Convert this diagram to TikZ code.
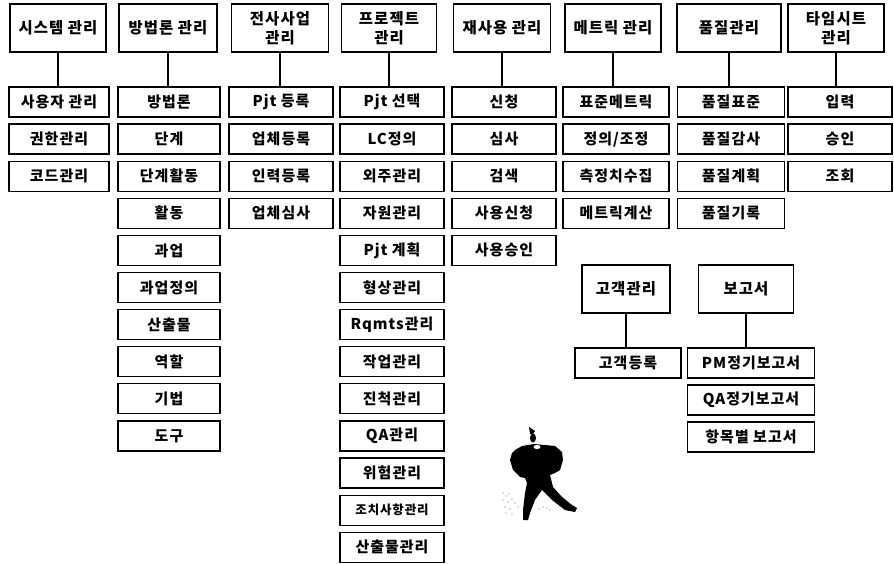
\documentclass[tikz,border=0pt]{standalone}
\usepackage{fontspec}
\setmainfont{Noto Sans CJK KR}[LetterSpace=7]
\usetikzlibrary{calc}
\tikzstyle{head}=[draw,line width=1.3bp,minimum height=48bp,inner sep=0pt,align=center,font=\bfseries\fontsize{15.5}{19}\selectfont]
\tikzstyle{item}=[draw,line width=1.2bp,minimum height=30bp,inner sep=0pt,font=\bfseries\fontsize{15}{18}\selectfont]
\tikzstyle{link} = [draw,line width=2.6bp]

\begin{document}
\begin{tikzpicture}[x=1bp,y=-1bp]
    \useasboundingbox (0,0) rectangle (894,564);
    % First we draw the top menus
    \foreach \pos/\w/\name/\txt in {{(58,28)/96/sys/시스템 관리},{(168,28)/98/meth/방법론 관리},
        {(280,28)/97/biz/{전사사업\\관리}},{(389,28)/95/prj/{프로젝트\\관리}},
        {(502,28)/97/reuse/재사용 관리},{(613,28)/96/metric/메트릭 관리},
        {(729,28)/104/qual/품질관리},{(836,28)/96/time/{타임시트\\관리}}}
        \node[head,minimum width=\w bp] (\name) at \pos {\txt};

    % Then the sub menus, one column at a time
    \foreach \txt [count=\i] in {사용자 관리,권한관리,코드관리}
        \node[item,minimum width=100bp] (sys-\i) at (59,{102+37.1*(\i-1)}) {\txt};
    \foreach \txt [count=\i] in {방법론,단계,단계활동,활동,과업,과업정의,산출물,역할,기법,도구}
        \node[item,minimum width=102bp] (meth-\i) at (169,{102+37.1*(\i-1)}) {\txt};
    \foreach \txt [count=\i] in {Pjt 등록,업체등록,인력등록,업체심사}
        \node[item,minimum width=104bp] (biz-\i) at (281,{102+37.1*(\i-1)}) {\txt};
    \foreach \txt [count=\i] in {Pjt 선택,LC정의,외주관리,자원관리,Pjt 계획,형상관리,Rqmts관리,
        작업관리,진척관리,QA관리,위험관리,{\fontsize{12.5}{14}\selectfont 조치사항관리},산출물관리}
        \node[item,minimum width=104bp] (prj-\i) at (392,{102+37.1*(\i-1)}) {\txt};
    \foreach \txt [count=\i] in {신청,심사,검색,사용신청,사용승인}
        \node[item,minimum width=104bp] (reuse-\i) at (504,{102+37.1*(\i-1)}) {\txt};
    \foreach \txt [count=\i] in {표준메트릭,{정의/조정},측정치수집,메트릭계산}
        \node[item,minimum width=106bp] (metric-\i) at (616,{102+37.1*(\i-1)}) {\txt};
    \foreach \txt [count=\i] in {품질표준,품질감사,품질계획,품질기록}
        \node[item,minimum width=107bp] (qual-\i) at (731,{102+37.1*(\i-1)}) {\txt};
    \foreach \txt [count=\i] in {입력,승인,조회}
        \node[item,minimum width=104bp] (time-\i) at (840,{102+37.1*(\i-1)}) {\txt};

    % The two small menus below
    \node[head,minimum width=88bp] (cust) at (626,289) {고객관리};
    \node[item,minimum width=106bp] (cust-1) at (628,363) {고객등록};
    \node[head,minimum width=95bp] (rep) at (746,289) {보고서};
    \foreach \txt [count=\i] in {PM정기보고서,QA정기보고서,항목별 보고서}
        \node[item,minimum width=127bp] (rep-\i) at (751,{363+37*(\i-1)}) {\txt};

    % Connect menus with their first sub menu
    \foreach \source in {sys,meth,biz,prj,reuse,metric,qual,time,cust,rep}
        \path[link] (\source.south) -- (\source.south |- \source-1.north);

    % the little man
    \fill[black] (522,446) -- (534,444) -- (545,445) -- (555,446) -- (562,452) -- (563,460)
        -- (560,470) -- (555,473) -- (550,475) -- (553,487) -- (562,497) -- (572,505)
        -- (577,508) -- (575,512) -- (565,510) -- (552,500) -- (542,490) -- (535,500)
        -- (530,513) -- (528,520) -- (523,520) -- (523,510) -- (525,493) -- (527,483)
        -- (525,478) -- (520,477) -- (513,470) -- (510,460) -- (512,453) -- (515,450) -- cycle;
    \fill[white] (537,447) ellipse (3.5 and 2);
    \fill[black] (533,438) ellipse (3 and 4.5);
    \fill[black] (529,427) -- (535,431) -- (533,434) -- (530,434) -- cycle;
    \foreach \p in {(503,493),(506,496),(509,494),(503,500),(508,502),(512,499),(515,503),
        (505,507),(510,509),(506,513),(512,514),(518,507),(539,509),(543,507),(547,508),(550,510)}
        \fill[black!55] \p circle (0.7);
\end{tikzpicture}
\end{document}
